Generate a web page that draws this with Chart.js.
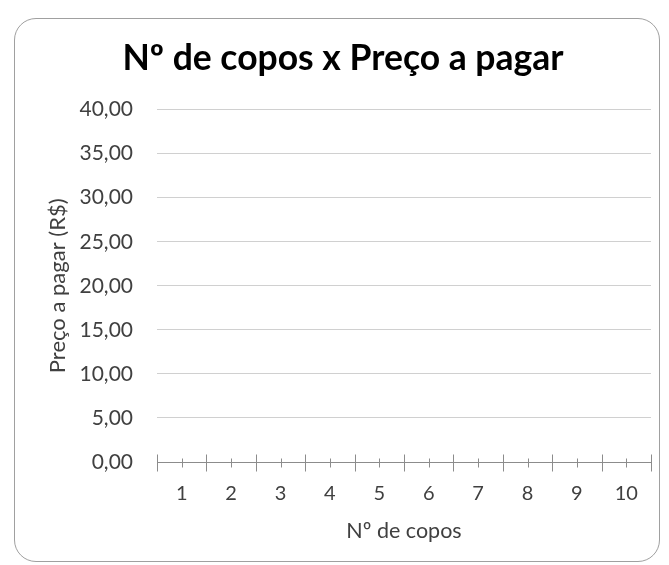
<!DOCTYPE html>
<html>
<head>
<meta charset="utf-8">
<script src="https://cdn.jsdelivr.net/npm/chart.js@4.4.0/dist/chart.umd.min.js"></script>
<style>
    body { margin: 0; background: #fff; }
    #wrap { position: relative; width: 669px; height: 565px; overflow: hidden; }
    #card {
        position: absolute; left: 14px; top: 18px; width: 644px; height: 542px;
        border: 1.5px solid #a0a0a0; border-radius: 22px;
    }
    #chart { position: absolute; left: 0; top: 0; }
</style>
</head>
<body>
<div id="wrap">
    <div id="card"></div>
    <canvas id="chart" width="669" height="565"></canvas>
</div>
<script>
const categories = ["1", "2", "3", "4", "5", "6", "7", "8", "9", "10"];
// the chart has no plotted values, only the empty grid
const prices = [null, null, null, null, null, null, null, null, null, null];
const yTicks = [0, 5, 10, 15, 20, 25, 30, 35, 40];

const FONT = "Lato, 'Open Sans', sans-serif";
const axisColor = "#8c8c8c";

const tickMarks = {
    id: "tickMarks",
    afterDraw(chart) {
        const x = chart.scales.x;
        const y0 = Math.round(chart.scales.y.getPixelForValue(0)) + 0.5;
        const ctx = chart.ctx;
        ctx.save();
        ctx.strokeStyle = axisColor;
        ctx.lineWidth = 1;
        ctx.beginPath();
        for (let i = 0; i <= categories.length; i++) {
            const px = Math.round(x.getPixelForValue(i - 0.5)) + 0.5;
            ctx.moveTo(px, y0 - 8);
            ctx.lineTo(px, y0 + 9);
        }
        for (let i = 0; i < categories.length; i++) {
            const px = Math.round(x.getPixelForValue(i)) + 0.5;
            ctx.moveTo(px, y0 - 4);
            ctx.lineTo(px, y0 + 5);
        }
        ctx.stroke();
        ctx.restore();
    }
};

new Chart(document.getElementById("chart"), {
    type: "line",
    data: {
        labels: categories,
        datasets: [{
            label: "Preço a pagar",
            data: prices,
            borderColor: "#4472c4",
            pointRadius: 0
        }]
    },
    options: {
        responsive: false,
        animation: false,
        layout: { padding: { left: 35, right: 18, top: 0, bottom: 0 } },
        plugins: {
            legend: { display: false },
            tooltip: { enabled: false },
            title: {
                display: true,
                text: "Nº de copos x Preço a pagar",
                color: "#000",
                font: { family: FONT, size: 35.5, weight: "bold" },
                padding: { top: 37, bottom: 30 }
            }
        },
        scales: {
            x: {
                offset: true,
                grid: { display: false, drawTicks: false },
                border: { display: false },
                ticks: {
                    color: "#404040",
                    font: { family: FONT, size: 20 },
                    padding: 20,
                    maxRotation: 0
                },
                title: {
                    display: true,
                    text: "Nº de copos",
                    color: "#404040",
                    font: { family: FONT, size: 21.5 },
                    padding: { top: 0, bottom: 21 }
                },
                afterFit(scale) { scale.height = 103; }
            },
            y: {
                min: yTicks[0],
                max: yTicks[yTicks.length - 1],
                afterBuildTicks(scale) {
                    scale.ticks = yTicks.map(v => ({ value: v }));
                },
                grid: {
                    drawTicks: false,
                    color: ctx => ctx.tick && ctx.tick.value === 0 ? axisColor : "#d0d0d0"
                },
                border: { display: false },
                ticks: {
                    color: "#404040",
                    font: { family: FONT, size: 21 },
                    padding: 24,
                    callback: v => v.toFixed(2).replace(".", ",")
                },
                title: {
                    display: true,
                    text: "Preço a pagar (R$)",
                    color: "#404040",
                    font: { family: FONT, size: 22 },
                    padding: { top: 10, bottom: 0 }
                },
                afterFit(scale) { scale.width = 122; }
            }
        }
    },
    plugins: [tickMarks]
});
</script>
</body>
</html>
